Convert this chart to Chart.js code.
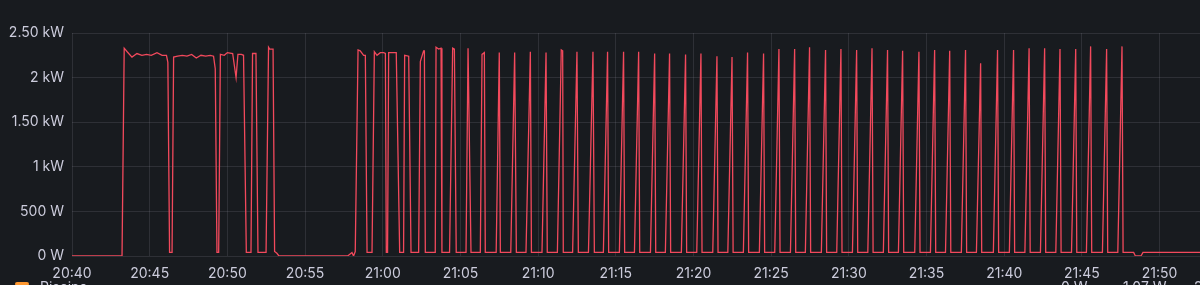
<!DOCTYPE html>
<html>
<head>
<meta charset="utf-8">
<script src="https://cdn.jsdelivr.net/npm/chart.js@4/dist/chart.umd.min.js"></script>
<style>
  html, body { margin: 0; padding: 0; background: #181b1f; overflow: hidden; }
  #wrap { position: relative; width: 1200px; height: 285px; }
  .leg { position: absolute; font: 14px Inter, sans-serif; color: #ccccdc; white-space: nowrap; }
  #swatch { position: absolute; left: 15px; top: 282px; width: 14px; height: 4px; border-radius: 2px; background: #ff9830; }
</style>
</head>
<body>
<div id="wrap">
  <canvas id="grafica"></canvas>
  <div id="swatch"></div>
  <div class="leg" style="left:40px; top:278px;">Piscina</div>
  <div class="leg" style="left:1061px; top:278px;">0 W</div>
  <div class="leg" style="left:1123px; top:278px;">1.07 W</div>
  <div class="leg" style="left:1194px; top:278px;">2.36 kW</div>
</div>
<script>
// minuti dopo le 20:40
const minuti = [
  0, 3.22, 3.36, 3.55, 3.86, 4.18, 4.5, 4.8, 5.1, 5.47, 5.8, 6.08, 6.17, 6.28, 6.44, 6.54,
  6.8, 7.1, 7.4, 7.7, 8.0, 8.3, 8.6, 8.9, 9.11, 9.22, 9.33, 9.44, 9.55, 9.8, 10.0, 10.34,
  10.56, 10.68, 10.9, 11.04, 11.22, 11.52, 11.62, 11.84, 11.97, 12.49, 12.65, 12.72, 12.94, 13.04, 13.19, 13.32,
  17.74, 18.02, 18.12, 18.23, 18.41, 18.55, 18.77, 18.88, 18.99,
  19.31, 19.46, 19.63, 19.84, 20.06, 20.17, 20.23, 20.31, 20.38, 20.87, 21.09,
  21.34, 21.41, 21.67, 21.82, 22.31, 22.42, 22.63, 22.68, 22.74,
  23.38, 23.43, 23.6, 23.75, 23.81, 24.3, 24.5, 24.61, 24.73,
  25.36, 25.49, 25.68, 26.28, 26.39, 26.54, 26.6, 27.3, 27.5, 27.57,
  28.24, 28.49, 28.6, 29.22, 29.5, 29.57, 30.25, 30.51, 30.59,
  31.24, 31.49, 31.58, 31.62, 32.22, 32.5, 32.59, 33.24, 33.53, 33.62,
  34.2, 34.47, 34.54, 35.23, 35.5, 35.57, 36.2, 36.47, 36.54,
  37.23, 37.5, 37.57, 38.19, 38.46, 38.53, 39.22, 39.49, 39.56,
  40.21, 40.48, 40.55, 41.24, 41.51, 41.58, 42.21, 42.48, 42.55,
  43.21, 43.48, 43.55, 44.24, 44.51, 44.58, 45.23, 45.5, 45.57,
  46.24, 46.51, 46.58, 47.2, 47.47, 47.54, 48.23, 48.5, 48.57,
  49.22, 49.49, 49.56, 50.23, 50.5, 50.57, 51.22, 51.49, 51.56,
  52.22, 52.49, 52.56, 53.19, 53.46, 53.53, 54.24, 54.51, 54.58,
  55.25, 55.52, 55.59, 56.22, 56.49, 56.56, 57.24, 57.51, 57.58,
  58.21, 58.48, 58.55, 59.3, 59.57, 59.64, 60.33, 60.6, 60.67,
  61.33, 61.6, 61.67, 62.33, 62.6, 62.67, 63.32, 63.59, 63.66,
  64.33, 64.6, 64.67, 65.29, 65.56, 65.63, 66.32, 66.59, 66.66,
  67.31, 67.58, 67.65, 68.33, 68.44, 68.8, 68.93, 72.6
];

// potenza in W
const potenza = [
  0, 0, 2330, 2290, 2230, 2270, 2250, 2260, 2250, 2280, 2250, 2250, 2170, 40, 40, 2230,
  2240, 2250, 2240, 2260, 2220, 2250, 2240, 2250, 2240, 2100, 40, 40, 2260, 2250, 2280, 2270,
  2000, 2260, 2260, 2250, 40, 40, 2270, 2270, 40, 40, 2340, 2320, 2320, 50, 30, 0,
  0, 40, 0, 50, 2310, 2300, 2250, 2250, 40,
  40, 2290, 2250, 2280, 2280, 2270, 40, 40, 2280, 2280, 40,
  40, 2250, 2240, 40, 40, 2180, 2300, 2300, 40,
  40, 2340, 2320, 2330, 40, 40, 2330, 2320, 40,
  40, 2330, 40, 40, 2260, 2280, 40, 40, 2280, 40,
  40, 2280, 40, 40, 2290, 40, 40, 2280, 40,
  40, 2310, 2300, 40, 40, 2290, 40, 40, 2290, 40,
  40, 2290, 40, 40, 2290, 40, 40, 2290, 40,
  40, 2270, 40, 40, 2270, 40, 40, 2260, 40,
  40, 2270, 40, 40, 2240, 40, 40, 2230, 40,
  40, 2280, 40, 40, 2270, 40, 40, 2320, 40,
  40, 2320, 40, 40, 2340, 40, 40, 2310, 40,
  40, 2320, 40, 40, 2310, 40, 40, 2330, 40,
  40, 2310, 40, 40, 2300, 40, 40, 2290, 40,
  40, 2310, 40, 40, 2300, 40, 40, 2310, 40,
  40, 2160, 40, 40, 2310, 40, 40, 2310, 40,
  40, 2330, 40, 40, 2330, 40, 40, 2320, 40,
  40, 2320, 40, 40, 2350, 40, 40, 2320, 40,
  40, 2350, 40, 40, 0, 0, 40, 40
];

const xTicks = [0, 5, 10, 15, 20, 25, 30, 35, 40, 45, 50, 55, 60, 65, 70];
const xTickLabels = ['20:40', '20:45', '20:50', '20:55', '21:00', '21:05', '21:10', '21:15',
  '21:20', '21:25', '21:30', '21:35', '21:40', '21:45', '21:50'];
const yTicks = [0, 500, 1000, 1500, 2000, 2500];
const yTickLabels = ['0 W', '500 W', '1 kW', '1.50 kW', '2 kW', '2.50 kW'];

const punti = minuti.map((m, i) => ({ x: m, y: potenza[i] }));

const testo = '#ccccdc';
const griglia = 'rgba(204, 204, 220, 0.12)';

new Chart(document.getElementById('grafica'), {
  type: 'line',
  data: {
    datasets: [{
      label: 'Piscina',
      data: punti,
      borderColor: '#f2495c',
      borderWidth: 1.3,
      pointRadius: 0,
      tension: 0,
      fill: false
    }]
  },
  options: {
    responsive: true,
    maintainAspectRatio: false,
    animation: false,
    layout: { padding: { top: 33, right: 0, bottom: 0, left: 0 } },
    plugins: { legend: { display: false }, tooltip: { enabled: false } },
    scales: {
      x: {
        type: 'linear',
        min: 0,
        max: 72.6,
        afterFit: s => { s.height = 29; },
        afterBuildTicks: s => { s.ticks = xTicks.map(v => ({ value: v })); },
        grid: { color: griglia, drawTicks: false },
        border: { display: false },
        ticks: {
          color: testo,
          font: { family: 'Inter', size: 14 },
          padding: 9,
          maxRotation: 0,
          autoSkip: false,
          callback: v => xTickLabels[xTicks.indexOf(v)]
        }
      },
      y: {
        min: 0,
        max: 2500,
        afterFit: s => { s.width = 72; },
        afterBuildTicks: s => { s.ticks = yTicks.map(v => ({ value: v })); },
        grid: { color: griglia, drawTicks: false },
        border: { display: false },
        ticks: {
          color: testo,
          font: { family: 'Inter', size: 14 },
          padding: 8,
          callback: v => yTickLabels[yTicks.indexOf(v)]
        }
      }
    }
  }
});
</script>
</body>
</html>
